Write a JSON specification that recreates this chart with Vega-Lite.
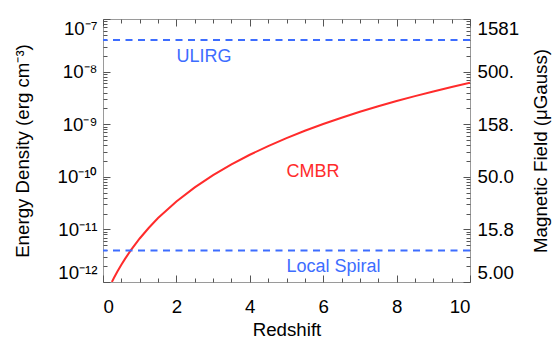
{
  "$schema": "https://vega.github.io/schema/vega-lite/v6.json",
  "width": 367,
  "height": 263,
  "autosize": {"type": "none"},
  "padding": {"left": 103, "top": 19, "right": 84, "bottom": 61},
  "config": {
    "view": {"stroke": "#9a9a9a", "strokeWidth": 1},
    "font": "Liberation Sans",
    "axis": {"grid": false, "domain": false, "tickColor": "#555555", "labelColor": "#000000", "titleColor": "#000000", "labelFontSize": 18.7, "titleFontSize": 18.7, "titleFontWeight": "normal", "labelFont": "Liberation Sans", "titleFont": "Liberation Sans"}
  },
  "datasets": {
    "cmbr": [
      {"z": 0.242, "u": 1.0e-12},
      {"z": 0.3, "u": 1.2e-12},
      {"z": 0.4, "u": 1.613e-12},
      {"z": 0.5, "u": 2.126e-12},
      {"z": 0.6, "u": 2.752e-12},
      {"z": 0.75, "u": 3.939e-12},
      {"z": 1.0, "u": 6.72e-12},
      {"z": 1.25, "u": 1.076e-11},
      {"z": 1.5, "u": 1.641e-11},
      {"z": 2.0, "u": 3.402e-11},
      {"z": 2.5, "u": 6.303e-11},
      {"z": 3.0, "u": 1.075e-10},
      {"z": 3.5, "u": 1.722e-10},
      {"z": 4.0, "u": 2.625e-10},
      {"z": 4.5, "u": 3.843e-10},
      {"z": 5.0, "u": 5.443e-10},
      {"z": 5.5, "u": 7.497e-10},
      {"z": 6.0, "u": 1.008e-9},
      {"z": 6.5, "u": 1.329e-9},
      {"z": 7.0, "u": 1.72e-9},
      {"z": 7.5, "u": 2.192e-9},
      {"z": 8.0, "u": 2.756e-9},
      {"z": 8.5, "u": 3.421e-9},
      {"z": 9.0, "u": 4.2e-9},
      {"z": 9.5, "u": 5.105e-9},
      {"z": 10.0, "u": 6.149e-9}
    ],
    "levels": [
      {"name": "ULIRG", "u": 3.98e-8},
      {"name": "Local Spiral", "u": 3.98e-12}
    ],
    "labels": [
      {"label": "ULIRG", "z": 2.0, "u": 1.52e-8, "kind": "blue"},
      {"label": "CMBR", "z": 5.0, "u": 1.0e-10, "kind": "red"},
      {"label": "Local Spiral", "z": 5.0, "u": 1.55e-12, "kind": "blue"}
    ]
  },
  "resolve": {"axis": {"x": "independent", "y": "independent"}},
  "layer": [
    {
      "data": {"name": "cmbr"},
      "mark": {"type": "line", "color": "#ff2b2b", "strokeWidth": 2, "clip": true},
      "encoding": {
        "x": {"field": "z", "type": "quantitative", "scale": {"domain": [0, 10], "nice": false, "zero": false},
          "axis": {"orient": "bottom", "values": [0, 2, 4, 6, 8, 10], "tickSize": -7, "labelPadding": 22, "title": "Redshift", "titleY": 53, "titleBaseline": "alphabetic"}},
        "y": {"field": "u", "type": "quantitative", "scale": {"type": "log", "domain": [1e-12, 1e-7], "nice": false},
          "axis": {"orient": "left", "values": [1e-12, 1e-11, 1e-10, 1e-9, 1e-8, 1e-7], "tickSize": -7, "labelPadding": 13, "labelFlush": true,
            "labelExpr": "'10' + ['⁻¹²','⁻¹¹','⁻¹⁰','⁻⁹','⁻⁸','⁻⁷'][round(log(datum.value)/LN10)+12]",
            "title": "Energy Density (erg cm⁻³)", "titleX": -75, "titleBaseline": "alphabetic"}}
      }
    },
    {
      "data": {"name": "levels"},
      "mark": {"type": "rule", "color": "#3d6dff", "strokeWidth": 2, "strokeDash": [7, 5.5]},
      "encoding": {
        "y": {"field": "u", "type": "quantitative", "axis": null}
      }
    },
    {
      "data": {"name": "labels"},
      "mark": {"type": "text", "align": "left", "baseline": "alphabetic", "fontSize": 18, "font": "Liberation Sans"},
      "encoding": {
        "x": {"field": "z", "type": "quantitative", "axis": null},
        "y": {"field": "u", "type": "quantitative", "axis": null},
        "text": {"field": "label"},
        "color": {"field": "kind", "type": "nominal", "scale": {"domain": ["blue", "red"], "range": ["#3d6dff", "#ff2b2b"]}, "legend": null}
      }
    },
    {
      "data": {"name": "cmbr"},
      "mark": {"type": "point", "opacity": 0},
      "encoding": {
        "x": {"field": "z", "type": "quantitative",
          "axis": {"orient": "bottom", "values": [0.5, 1, 1.5, 2.5, 3, 3.5, 4.5, 5, 5.5, 6.5, 7, 7.5, 8.5, 9, 9.5], "tickSize": -4, "labels": false, "title": null}},
        "y": {"field": "u", "type": "quantitative",
          "axis": {"orient": "left", "values": [2e-12,3e-12,4e-12,5e-12,6e-12,7e-12,8e-12,9e-12,2e-11,3e-11,4e-11,5e-11,6e-11,7e-11,8e-11,9e-11,2e-10,3e-10,4e-10,5e-10,6e-10,7e-10,8e-10,9e-10,2e-9,3e-9,4e-9,5e-9,6e-9,7e-9,8e-9,9e-9,2e-8,3e-8,4e-8,5e-8,6e-8,7e-8,8e-8,9e-8], "tickSize": -4, "labels": false, "title": null}}
      }
    },
    {
      "data": {"name": "cmbr"},
      "mark": {"type": "point", "opacity": 0},
      "encoding": {
        "x": {"field": "z", "type": "quantitative",
          "axis": {"orient": "top", "values": [0, 2, 4, 6, 8, 10], "tickSize": -7, "labels": false, "title": null}},
        "y": {"field": "u", "type": "quantitative",
          "axis": {"orient": "right", "values": [1e-12, 1e-11, 1e-10, 1e-9, 1e-8, 1e-7], "tickSize": -7, "labelPadding": 14, "labelFlush": true,
            "labelExpr": "['5.00','15.8','50.0','158.','500.','1581'][round(log(datum.value)/LN10)+12]",
            "title": "Magnetic Field (μGauss)", "titleAngle": -90, "titleX": 76, "titleBaseline": "alphabetic"}}
      }
    },
    {
      "data": {"name": "cmbr"},
      "mark": {"type": "point", "opacity": 0},
      "encoding": {
        "x": {"field": "z", "type": "quantitative",
          "axis": {"orient": "top", "values": [0.5, 1, 1.5, 2.5, 3, 3.5, 4.5, 5, 5.5, 6.5, 7, 7.5, 8.5, 9, 9.5], "tickSize": -4, "labels": false, "title": null}},
        "y": {"field": "u", "type": "quantitative",
          "axis": {"orient": "right", "values": [2e-12,3e-12,4e-12,5e-12,6e-12,7e-12,8e-12,9e-12,2e-11,3e-11,4e-11,5e-11,6e-11,7e-11,8e-11,9e-11,2e-10,3e-10,4e-10,5e-10,6e-10,7e-10,8e-10,9e-10,2e-9,3e-9,4e-9,5e-9,6e-9,7e-9,8e-9,9e-9,2e-8,3e-8,4e-8,5e-8,6e-8,7e-8,8e-8,9e-8], "tickSize": -4, "labels": false, "title": null}}
      }
    }
  ]
}
